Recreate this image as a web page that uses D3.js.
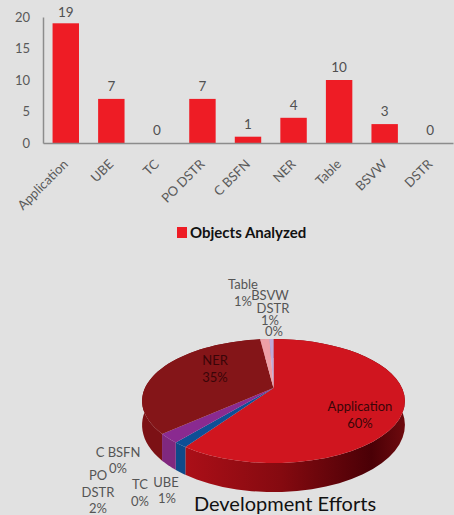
<!DOCTYPE html>
<html>
<head>
<meta charset="utf-8">
<script src="https://cdn.jsdelivr.net/npm/d3@7"></script>
<style>
    html, body { margin: 0; padding: 0; background: #e1e1e1; }
    text { font-family: Lato, sans-serif; }
</style>
</head>
<body>
<div id="chart"></div>
<script>
const barCategories = ['Application', 'UBE', 'TC', 'PO DSTR', 'C BSFN', 'NER', 'Table', 'BSVW', 'DSTR'];
const barValues = [19, 7, 0, 7, 1, 4, 10, 3, 0];
const yTicks = [0, 5, 10, 15, 20];

const pieCategories = ['Application', 'UBE', 'TC', 'PO DSTR', 'C BSFN', 'NER', 'Table', 'BSVW', 'DSTR'];
const pieValues = [59.6, 1.4, 0, 2.4, 0, 34.6, 1.4, 0.6, 0];

const pieTop = ['#d0151f', '#0f4f96', '#5b3a8c', '#8a2a90', '#8a2a90', '#841518', '#ee9fa6', '#bfa8d8', '#c0c0c0'];

const width = 454, height = 515;

const svg = d3.select('#chart')
    .append('svg')
    .attr('width', width)
    .attr('height', height)
    .style('display', 'block');

// bar chart
const x = d3.scaleBand()
    .domain(barCategories)
    .range([43, 453])
    .paddingInner(0.42)
    .paddingOuter(0.21);

const y = d3.scaleLinear()
    .domain([0, 20])
    .range([143, 17]);

svg.selectAll('.bar')
    .data(barValues)
    .enter().append('rect')
    .attr('class', 'bar')
    .attr('x', (d, i) => x(barCategories[i]))
    .attr('y', d => y(d))
    .attr('width', x.bandwidth())
    .attr('height', d => y(0) - y(d))
    .attr('fill', '#ee1c25');

svg.selectAll('.bar-label')
    .data(barValues)
    .enter().append('text')
    .attr('class', 'bar-label')
    .attr('x', (d, i) => x(barCategories[i]) + x.bandwidth() / 2)
    .attr('y', d => Math.max(y(d) - 8, 17))
    .attr('text-anchor', 'middle')
    .attr('fill', '#505050')
    .style('font-size', '13.5px')
    .text(d => d);

const yAxis = svg.append('g')
    .attr('transform', 'translate(43,0)')
    .call(d3.axisLeft(y).tickValues(yTicks).tickSize(0).tickPadding(13));

const xAxis = svg.append('g')
    .attr('transform', 'translate(0,143)')
    .call(d3.axisBottom(x).tickSize(0));

[yAxis, xAxis].forEach(a => {
    a.select('.domain').attr('stroke', '#8c8c8c').attr('stroke-width', 1.5);
    a.selectAll('text').attr('fill', '#595959').style('font-size', '13px').style('font-family', 'Lato, sans-serif');
});

xAxis.selectAll('text')
    .attr('text-anchor', 'end')
    .attr('dx', 0)
    .attr('dy', 0)
    .attr('y', 0)
    .attr('transform', 'translate(3,22) rotate(-45)');

// legend
svg.append('rect')
    .attr('x', 177)
    .attr('y', 227)
    .attr('width', 10)
    .attr('height', 11)
    .attr('fill', '#ee1c25');

svg.append('text')
    .attr('x', 190)
    .attr('y', 238)
    .attr('fill', '#111')
    .style('font-size', '15px')
    .style('font-weight', 700)
    .text('Objects Analyzed');

// pie, seen in perspective so the apex sits above the middle of the rim
const cx = 273.5, cy = 388, a = 128.5, h = 59.3, k = 0.21, depth = 23;

const project = (angle, lower) => {
    const s = 1 / (1 + k * Math.cos(angle));
    return [
        cx + a * Math.sin(angle) * s,
        cy - h * Math.cos(angle) * s + (lower ? depth * s : 0)
    ];
};

const rim = (start, end, lower) => d3.range(0, 41)
    .map(i => project(start + (end - start) * i / 40, lower));

const line = d3.line();

const slices = d3.pie().sort(null).value(d => d)(pieValues)
    .map(d => ({...d, name: pieCategories[d.index], color: pieTop[d.index]}))
    .filter(d => d.value > 0);

const defs = svg.append('defs');
const sideGrad = defs.append('linearGradient')
    .attr('id', 'side-app')
    .attr('gradientUnits', 'userSpaceOnUse')
    .attr('x1', 180).attr('x2', 405).attr('y1', 0).attr('y2', 0);
sideGrad.append('stop').attr('offset', 0).attr('stop-color', '#ad0f18');
sideGrad.append('stop').attr('offset', 0.45).attr('stop-color', '#850a10');
sideGrad.append('stop').attr('offset', 0.85).attr('stop-color', '#4a0006');
sideGrad.append('stop').attr('offset', 1).attr('stop-color', '#6e0a0e');

const sideColor = {
    'Application': 'url(#side-app)',
    'UBE': '#0f4a8a',
    'PO DSTR': '#80287f',
    'NER': '#7c1115',
    'Table': '#c08286',
    'BSVW': '#9a88b5'
};

// sides first, the top faces cover whatever is at the back
svg.selectAll('.pie-side')
    .data(slices)
    .enter().append('path')
    .attr('class', 'pie-side')
    .attr('fill', d => sideColor[d.name])
    .attr('d', d => line(rim(d.startAngle, d.endAngle, false)
        .concat(rim(d.startAngle, d.endAngle, true).reverse())) + 'Z');

svg.selectAll('.pie-top')
    .data(slices)
    .enter().append('path')
    .attr('class', 'pie-top')
    .attr('fill', d => d.color)
    .attr('d', d => line([[cx, cy]].concat(rim(d.startAngle, d.endAngle, false))) + 'Z');

// pie labels
const pct = i => `${Math.round(pieValues[i])}%`;

const pieLabels = [
    {lines: [[pieCategories[0], 360, 411], [pct(0), 360, 428]], fill: '#3a0508'},
    {lines: [[pieCategories[5], 215, 365], [pct(5), 215, 382]], fill: '#3a0508'},
    {lines: [[pieCategories[6], 243, 289], [pct(6), 243, 306]]},
    {lines: [[pieCategories[7], 270, 300], [pct(7), 270, 325]]},
    {lines: [[pieCategories[8], 273, 313], [pct(8), 274, 336]]},
    {lines: [[pieCategories[1], 166, 487], [pct(1), 167, 503]]},
    {lines: [[pieCategories[2], 140, 489], [pct(2), 140, 506]]},
    {lines: [[pieCategories[4], 118, 457], [pct(4), 118, 473]]},
    {lines: [['PO', 98, 480], ['DSTR', 98, 497], [pct(3), 98, 513]]}
];

pieLabels.forEach(l => {
    l.lines.forEach(([t, lx, ly]) => {
        svg.append('text')
            .attr('x', lx)
            .attr('y', ly)
            .attr('text-anchor', 'middle')
            .attr('fill', l.fill || '#555')
            .style('font-size', '13px')
            .text(t);
    });
});

svg.append('text')
    .attr('x', 285)
    .attr('y', 511)
    .attr('text-anchor', 'middle')
    .attr('fill', '#111')
    .style('font-size', '20px')
    .text('Development Efforts');
</script>
</body>
</html>
